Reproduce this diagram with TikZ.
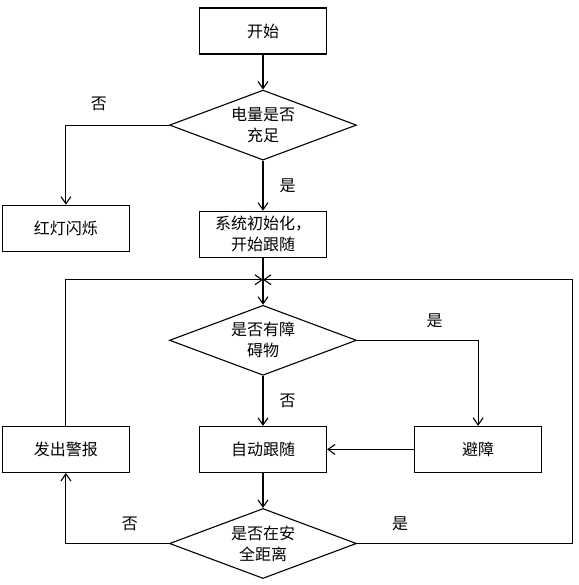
\documentclass[tikz,border=0pt]{standalone}
\usepackage{fontspec}
\setmainfont{Noto Sans CJK SC}
\usetikzlibrary{arrows.meta,positioning,shapes.geometric}

\begin{document}
\begin{tikzpicture}[
  x=1pt, y=1pt,
  node distance=35pt,
  line width=1.1pt,
  font=\fontsize{16pt}{21pt}\selectfont,
  box/.style={draw, align=center, minimum width=127pt, minimum height=46pt, inner sep=2pt},
  decision/.style={draw, diamond, align=center, aspect=2.67, minimum width=187pt, minimum height=70pt, inner sep=1pt},
  tag/.style={inner sep=2pt},
  >={Straight Barb[length=2.5mm, width=3.5mm]}
]
  \useasboundingbox (0,0) rectangle (578,-585);
  \node[box] (start) at (263,-31) {开始};
  \node[decision, below=35pt of start] (battery) {电量是否\\充足};
  \node[box, below=50pt of battery] (init) {系统初始化，\\开始跟随};
  \node[box, left=69pt of init, yshift=6pt] (redled) {红灯闪烁};
  \node[decision, below=47pt of init] (obstacle) {是否有障\\碍物};
  \node[box, below=50pt of obstacle] (follow) {自动跟随};
  \node[box, left=69pt of follow] (alarm) {发出警报};
  \node[box, right=87pt of follow] (avoid) {避障};
  \node[decision, below=35pt of follow] (distance) {是否在安\\全距离};
  \coordinate[below=22pt of init] (join);
  \coordinate[right=215pt of distance.east] (rcorner);

  \draw[->] (start) -- (battery);
  \draw[->] (battery.west) -| node[tag, pos=0.34, above=12pt] {否} (redled.north);
  \draw[->] (battery) -- node[tag, right=14pt] {是} (init);
  \draw[->] (init) -- (obstacle);
  \draw[->] (obstacle.east) -| node[tag, pos=0.32, above=10pt] {是} (avoid.north);
  \draw[->] (obstacle) -- node[tag, right=14pt] {否} (follow);
  \draw[->] (avoid) -- (follow);
  \draw[->] (follow) -- (distance);
  \draw[->] (distance.west) -| node[tag, pos=0.19, above=10pt] {否} (alarm.south);
  \draw[->] (alarm.north) |- (join);
  \draw[->] (distance.east) -- node[tag, pos=0.2, above=10pt] {是} (rcorner) |- (join);
\end{tikzpicture}
\end{document}
